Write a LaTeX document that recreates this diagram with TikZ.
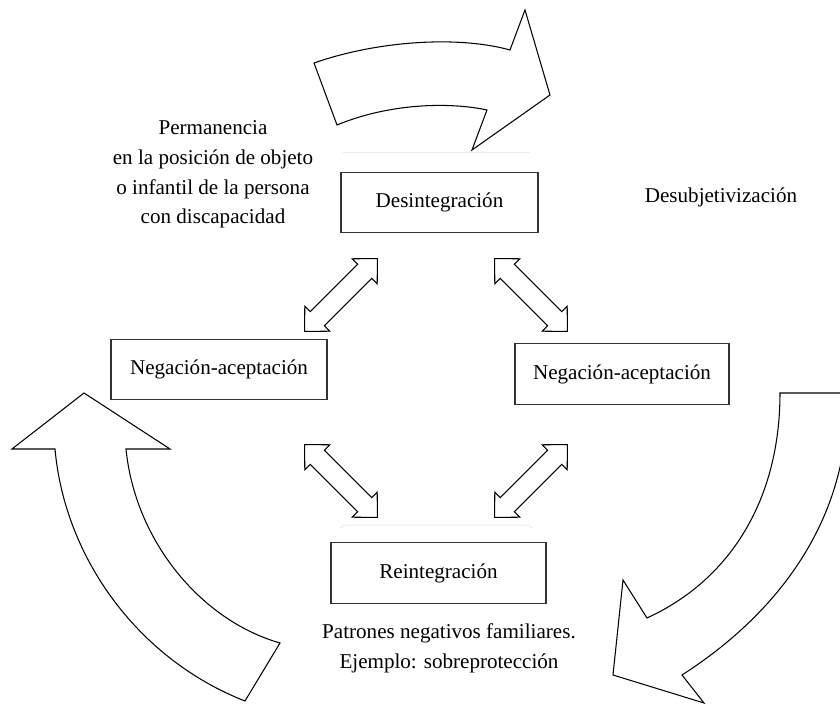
\documentclass[tikz,border=0pt]{standalone}
\usepackage{fontspec}
\setmainfont{Liberation Serif}
\usepackage{tikz}

\begin{document}
\begin{tikzpicture}[x=0.02cm, y=-0.02cm, font=\fontsize{12}{16.9}\selectfont,
        etapa/.style={draw=black!80, line width=0.8pt, minimum height=1.21cm, inner sep=0pt},
        flecha/.style={draw=black, line width=0.6pt, line join=miter, fill=white},
        dblarrow/.pic={
            \draw [flecha] (-51.5,0) -- (-33.5,17.7) -- (-33.5,10) -- (33.5,10) -- (33.5,17.7)
                -- (51.5,0) -- (33.5,-17.7) -- (33.5,-10) -- (-33.5,-10) -- (-33.5,-17.7) -- cycle;
        }]
                \useasboundingbox (0,0) rectangle (840,712);

                \draw [flecha] (314,63) .. controls (380,40) and (460,36) .. (510,50)
                    -- (525,10) -- (550,95) -- (472,150) -- (487,110)
                    .. controls (450,102) and (390,103) .. (337,125) -- cycle;
                \draw [flecha] (55,449) -- (12,449) -- (84,393) -- (170,449) -- (126,449)
                    .. controls (135,540) and (200,620) .. (280,643) -- (245,701)
                    .. controls (140,660) and (65,560) .. (55,449) -- cycle;
                \draw [flecha] (780,393) .. controls (780,500) and (730,580) .. (647,618)
                    -- (623,580) -- (613,675) -- (704,703) -- (682,675)
                    .. controls (760,625) and (835,545) .. (846,430) -- (848,393) -- cycle;

                \draw [black!8] (343,152) -- (530,152);
                \draw [black!10] (340,528) .. controls (344,525) .. (355,525) -- (518,525)
                    .. controls (528,525) .. (532,528);

                \node [etapa, minimum width=3.94cm] (desint) at (439.5,202.5) {Desintegración};
                \node [etapa, minimum width=4.32cm] (negizq) at (219,369.5) {Negación-aceptación};
                \node [etapa, minimum width=4.28cm] (negder) at (622,374) {Negación-aceptación};
                \node [etapa, minimum width=4.30cm] (reint) at (438.5,573) {Reintegración};

                \pic [rotate=45] at (341,295) {dblarrow};
                \pic [rotate=-45] at (531,295) {dblarrow};
                \pic [rotate=-45] at (341,481) {dblarrow};
                \pic [rotate=45] at (531,481) {dblarrow};

                \node [align=center] (permanencia) at (213,174.5) {Permanencia\\en la posición de objeto\\o infantil de la persona\\con discapacidad};
                \node (desubj) at (721,197) {Desubjetivización};
                \node [align=center] (patrones) at (449,648.5) {Patrones negativos familiares.\\Ejemplo: sobreprotección};
            \end{tikzpicture}
\end{document}
